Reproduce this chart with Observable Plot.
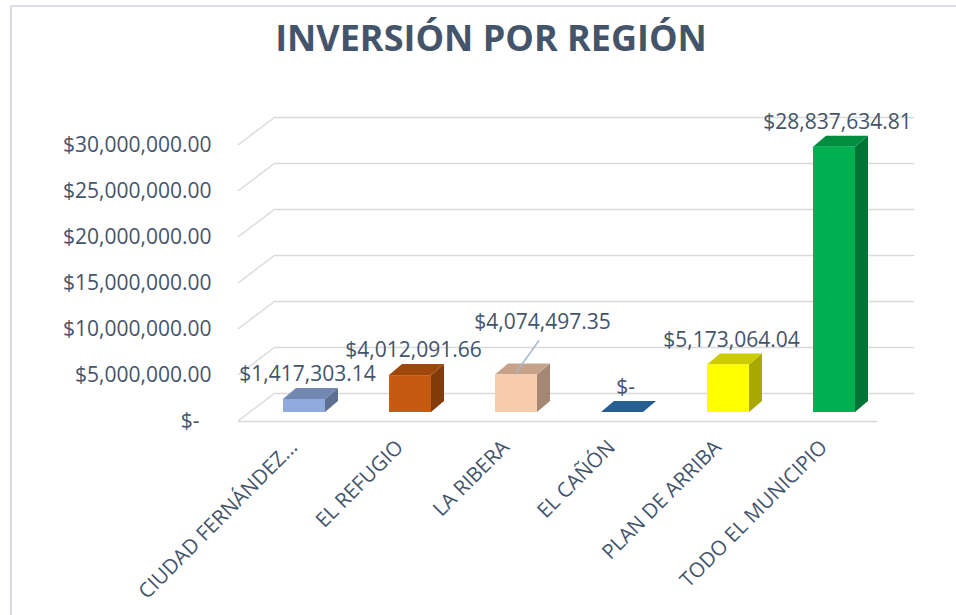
<!DOCTYPE html>
<html><head><meta charset="utf-8">
<script src="https://cdn.jsdelivr.net/npm/d3@7"></script>
<script src="https://cdn.jsdelivr.net/npm/@observablehq/plot@0.6"></script>
<style>
html,body{margin:0;padding:0;background:#fff;width:956px;height:615px;overflow:hidden;}
#frame{position:absolute;left:10px;top:5px;right:-5px;bottom:-5px;border-left:2px solid #D9DEE7;border-top:2px solid #D9DEE7;}
#title{position:absolute;left:26px;width:930px;top:13px;text-align:center;font-family:"Open Sans";font-weight:bold;font-size:36px;line-height:50px;color:#44546A;white-space:nowrap;}
#chart{position:absolute;left:0;top:80px;}
</style></head><body>
<div id="frame"></div>
<div id="title">INVERSIÓN POR REGIÓN</div>
<div id="chart"></div>
<script>
// ---- data ----
const regions = ["CIUDAD FERNÁNDEZ...", "EL REFUGIO", "LA RIBERA", "EL CAÑÓN", "PLAN DE ARRIBA", "TODO EL MUNICIPIO"];
const investments = [1417303.14, 4012091.66, 4074497.35, 0, 5173064.04, 28837634.81];
const yTicks = [0, 5000000, 10000000, 15000000, 20000000, 25000000, 30000000];
const barColors = ["#8FAADC", "#C55A11", "#F8CBAD", "#2E75B6", "#FFFF00", "#00B050"];
const calloutRegion = "LA RIBERA";

const rows = regions.map((region, i) => ({region, value: investments[i], color: barColors[i]}));
const money = v => v === 0 ? "$-" : d3.format("$,.2f")(v);
const shade = (c, k) => { const r = d3.rgb(c); return d3.rgb(r.r * k, r.g * k, r.b * k).formatHex(); };

// 3D geometry (pixels)
const DX = 13, DY = -11;            // bar depth
const BACK_DX = 25, BACK_DY = -19;  // bar plane -> back wall
const FRONT_DX = -12, FRONT_DY = 9; // bar plane -> front edge
const textColor = "#44546A";
const gridColor = "#D9D9D9";

function sideWall(index, scales, values, dims) {
  const {y} = scales;
  const g = d3.create("svg:g").attr("stroke", gridColor).attr("stroke-width", 1.5).attr("fill", "none");
  for (const t of yTicks) {
    const yy = y(t);
    g.append("path").attr("d", `M${dims.marginLeft + FRONT_DX},${yy + FRONT_DY}L${dims.marginLeft + BACK_DX},${yy + BACK_DY}`);
  }
  return g.node();
}

function bars3d(index, scales) {
  const {x, y} = scales;
  const bw = typeof x.bandwidth === "function" ? x.bandwidth() : scales.scales.x.bandwidth;
  const g = d3.create("svg:g");
  for (const d of rows) {
    const x0 = x(d.region), x1 = x0 + bw, yt = y(d.value), yb = y(0);
    if (d.value > 0) {
      g.append("path")
        .attr("d", `M${x1},${yb}L${x1 + DX},${yb + DY}L${x1 + DX},${yt + DY}L${x1},${yt}Z`)
        .attr("fill", shade(d.color, 0.66));
    }
    g.append("path")
      .attr("d", `M${x0},${yt}L${x1},${yt}L${x1 + DX},${yt + DY}L${x0 + DX},${yt + DY}Z`)
      .attr("fill", shade(d.color, 0.8));
  }
  return g.node();
}

function leader(index, scales) {
  const {x, y} = scales;
  const bw = typeof x.bandwidth === "function" ? x.bandwidth() : scales.scales.x.bandwidth;
  const d = rows.find(r => r.region === calloutRegion);
  const cx = x(d.region) + bw / 2, yv = y(d.value);
  const g = d3.create("svg:g");
  g.append("path").attr("d", `M${cx + 23},${yv - 34}L${cx},${yv - 2}`)
    .attr("stroke", "#A9B9CC").attr("stroke-width", 1.5).attr("fill", "none");
  return g.node();
}

const chart = Plot.plot({
  width: 956,
  height: 535,
  marginLeft: 250,
  marginRight: 67,
  marginTop: 56,
  marginBottom: 203,
  style: {fontFamily: "Open Sans", fontSize: "21px", color: textColor, background: "transparent", overflow: "visible"},
  x: {domain: regions, paddingInner: 0.6, paddingOuter: 0.3, axis: null},
  y: {domain: [0, 30000000], axis: null},
  color: {domain: regions, range: barColors},
  marks: [
    Plot.ruleY(yTicks, {dx: BACK_DX, dy: BACK_DY, stroke: gridColor, strokeWidth: 1.5}),
    sideWall,
    Plot.ruleY([0], {dx: FRONT_DX, dy: FRONT_DY, stroke: gridColor, strokeWidth: 1.5}),
    bars3d,
    Plot.barY(rows, {x: "region", y: "value", fill: "region"}),
    Plot.text(yTicks, {y: d => d, text: d => money(d) + (d === 0 ? "\u2007" : ""), frameAnchor: "left", dx: -39, dy: FRONT_DY, textAnchor: "end", fontSize: 21}),
    Plot.text(rows.filter(d => d.region !== calloutRegion), {x: "region", y: "value", text: d => money(d.value), dx: 3, dy: -25, fontSize: 21}),
    Plot.text(rows.filter(d => d.region === calloutRegion), {x: "region", y: "value", text: d => money(d.value), dx: 26, dy: -53, fontSize: 21}),
    leader,
    Plot.text(regions, {x: d => d, frameAnchor: "bottom", dx: -6, dy: 36, rotate: -45, textAnchor: "end", fontSize: 20.5})
  ]
});
document.getElementById("chart").appendChild(chart);
</script>
</body></html>
